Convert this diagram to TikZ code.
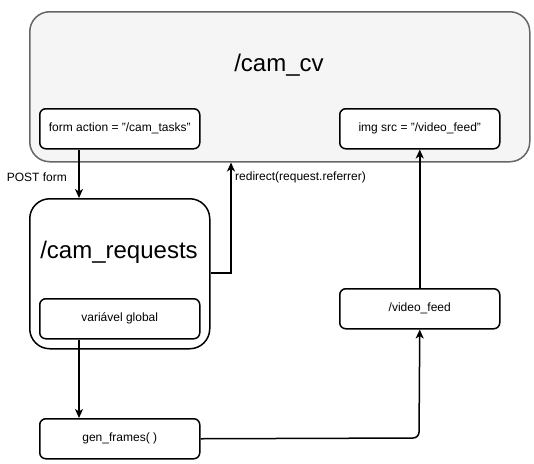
\documentclass[tikz,border=0pt]{standalone}
\usepackage{fontspec}
\setmainfont{Liberation Sans}
\usetikzlibrary{arrows.meta,positioning}
\definecolor{panelfill}{HTML}{F5F5F5}
\definecolor{panelline}{HTML}{666666}
\tikzset{
  box/.style={draw=black,line width=1.5pt,rounded corners=6pt,fill=white,minimum width=160pt,minimum height=40pt,inner sep=0pt,font=\fontsize{12}{14}\selectfont,anchor=north west},
  bigbox/.style={draw=black,line width=1.5pt,rounded corners=20pt,fill=white,anchor=north west,inner sep=0pt},
  conn/.style={line width=1.5pt,-{Stealth[length=9pt,width=8pt,inset=2.5pt]}},
  lbl/.style={font=\fontsize{12}{14}\selectfont,inner sep=0pt}
}
\begin{document}
\begin{tikzpicture}[x=1pt,y=-1pt]
\useasboundingbox (0,0) rectangle (534,463);
% main panel
\node[bigbox,draw=panelline,fill=panelfill,minimum width=500pt,minimum height=150pt] (camcv) at (29,11) {};
\node[font=\fontsize{24}{28}\selectfont] (camcvlabel) at (279,65) {/cam\_cv};
\node[box] (form) at (39,108) {form action = "/cam\_tasks"};
\node[box] (img) at (339,108) {img src = "/video\_feed"};
% cam_requests
\node[bigbox,minimum width=180pt,minimum height=150pt] (camreq) at (29,198) {};
\node[font=\fontsize{24}{28}\selectfont] (camreqlabel) at (119,252) {/cam\_requests};
\node[box] (var) at (39,298) {variável global};
% others
\node[box] (video) at (339,288) {/video\_feed};
\node[box] (gen) at (39,418) {gen\_frames( )};
% connectors
\draw[conn] (form.south -| 79,0) -- (camreq.north -| 79,0);
\node[lbl,anchor=east] (postlbl) at (67,177) {POST form};
\coordinate (rdcorner) at (231,273);
\draw[conn] (camreq.east |- rdcorner) -- (rdcorner) -- (rdcorner |- camcv.south);
\node[lbl,anchor=west] (rdlbl) at (235,177) {redirect(request.referrer)};
\draw[conn] (var.south -| 79,0) -- (gen.north -| 79,0);
\draw[conn,rounded corners=6pt] (gen.east) -- (419,438) -- (video.south);
\draw[conn] (video.north) -- (img.south);
\end{tikzpicture}
\end{document}
